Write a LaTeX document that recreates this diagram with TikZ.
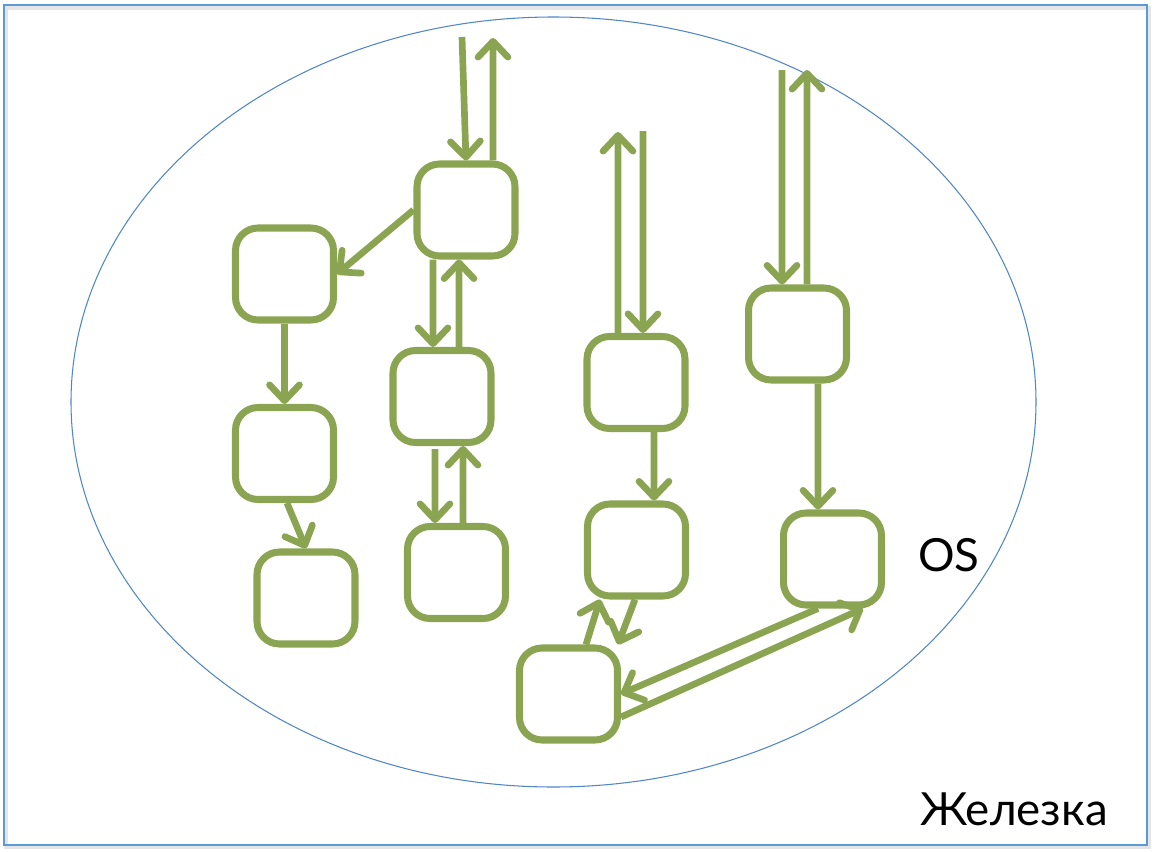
\documentclass[tikz,border=0pt]{standalone}
\usepackage{fontspec}
\setmainfont{Lato}
\usepackage{xcolor}
\definecolor{LeafGreen}{HTML}{8AA451}
\definecolor{RingBlue}{HTML}{4F86C6}
\definecolor{FrameBlue}{HTML}{5B9BD5}
\usepackage{tikz}
\usetikzlibrary{arrows.meta, positioning}

\begin{document}
\begin{tikzpicture}[x=0.02cm, y=-0.02cm,
    box/.style={draw=LeafGreen, line width=4pt, rounded corners=0.45cm,
      minimum width=1.96cm, minimum height=1.84cm, inner sep=0pt},
    conn/.style={draw=LeafGreen, line width=3.8pt,
      -{Straight Barb[length=9pt, width=17pt, line cap=round, line join=round]}},
    label/.style={font=\fontsize{26}{30}\selectfont, inner sep=0pt}]
  \useasboundingbox (0,0) rectangle (1154,852);
  \draw[black!10, line width=2pt] (6,8) rectangle (1149,847);
  \draw[FrameBlue, line width=0.8pt] (4,5) rectangle (1147,845);
  \draw[RingBlue, line width=0.6pt] (553.5,402) ellipse [x radius=482.5, y radius=385];

  % boxes
  \node[box] (A) at (466,210) {};
  \node[box] (B) at (284.5,274) {};
  \node[box] (C) at (284.5,453.5) {};
  \node[box] (D) at (306,598) {};
  \node[box] (E) at (442,396.5) {};
  \node[box] (F) at (456.5,572.5) {};
  \node[box] (G) at (636,382.5) {};
  \node[box] (H) at (636.5,550) {};
  \node[box] (I) at (568.5,694) {};
  \node[box] (J) at (797.5,334) {};
  \node[box] (K) at (832.5,559) {};

  % free ends
  \coordinate (inA) at (462,37);
  \coordinate (outA) at (493,38);
  \coordinate (inG) at (643,131);
  \coordinate (outG) at (618,132);
  \coordinate (inJ) at (782,70);
  \coordinate (outJ) at (807,70);

  % connectors
  \draw[conn] (inA) -- (A.north);
  \draw[conn] ([xshift=0.54cm]A.north) -- (outA);
  \draw[conn] (A.west) -- (B.east);
  \draw[conn] (B.south) -- (C.north);
  \draw[conn] ([xshift=0.05cm]C.south) -- (D.north);
  \draw[conn] ([xshift=-0.66cm]A.south) -- ([xshift=-0.18cm]E.north);
  \draw[conn] ([xshift=0.34cm]E.north) -- ([xshift=-0.14cm]A.south);
  \draw[conn] ([xshift=-0.14cm,yshift=-0.06cm]E.south) -- ([xshift=-0.43cm]F.north);
  \draw[conn] ([xshift=0.13cm]F.north) -- ([xshift=0.42cm]E.south);
  \draw[conn] (inG) -- ([xshift=0.14cm]G.north);
  \draw[conn] ([xshift=-0.36cm]G.north) -- (outG);
  \draw[conn] ([xshift=0.36cm]G.south) -- ([xshift=0.35cm]H.north);
  \draw[conn] ([xshift=0.35cm]I.north) -- ([xshift=-0.73cm]H.south);
  \draw[conn] ([xshift=-0.03cm]H.south) -- ([xshift=0.99cm]I.north);
  \draw[conn] (inJ) -- ([xshift=-0.31cm]J.north);
  \draw[conn] ([xshift=0.19cm]J.north) -- (outJ);
  \draw[conn] ([xshift=0.41cm]J.south) -- ([xshift=-0.29cm]K.north);
  \draw[conn] ([xshift=-0.29cm]K.south) -- (I.east);
  \draw[conn] ([yshift=-0.46cm]I.east) -- ([xshift=0.61cm]K.south);

  % labels
  \node[label, anchor=base] (os) at (949,571) {OS};
  \node[label, anchor=base] (hw) at (1014,825) {Железка};
\end{tikzpicture}
\end{document}
